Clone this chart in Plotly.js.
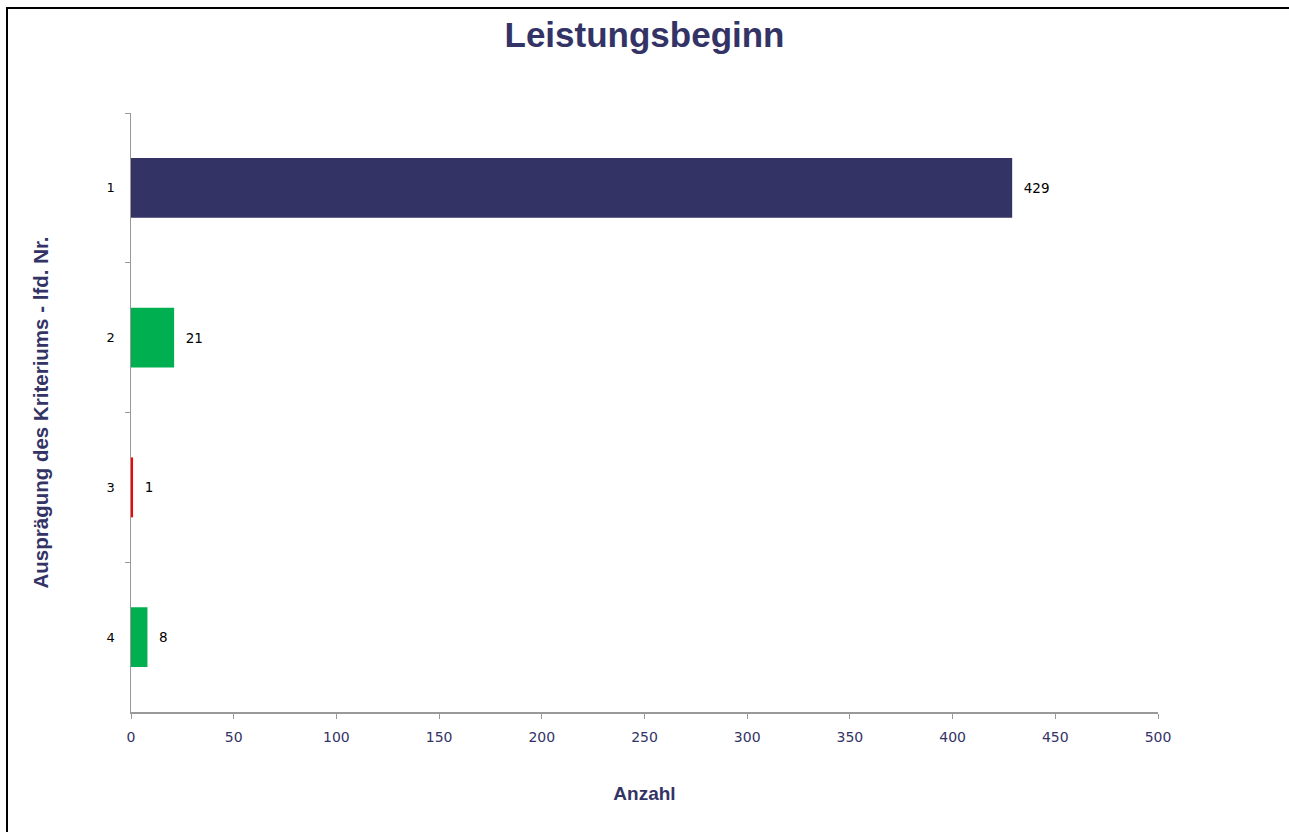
<!DOCTYPE html>
<html>
<head>
<meta charset="utf-8">
<script src="https://cdn.plot.ly/plotly-3.0.1.min.js"></script>
<style>
  html, body { margin: 0; padding: 0; background: #fff; overflow: hidden; }
  #wrap { position: relative; width: 1289px; height: 832px; overflow: hidden; }
  #chart { position: absolute; left: 0; top: 0; width: 1289px; height: 832px; }
  #frame { position: absolute; left: 6px; top: 7px; width: 1283px; height: 825px;
           border-top: 2px solid #000; border-left: 2px solid #000; pointer-events: none;
           box-sizing: border-box; }
</style>
</head>
<body>
<div id="wrap">
  <div id="chart"></div>
  <div id="frame"></div>
</div>
<script>
const categories = ['1', '2', '3', '4'];
const values = [429, 21, 1, 8];
const barColors = ['#333366', '#00B050', '#FF0000', '#00B050'];
const xTickValues = [0, 50, 100, 150, 200, 250, 300, 350, 400, 450, 500];

const navy = '#333366';

const trace = {
  type: 'bar',
  orientation: 'h',
  y: categories,
  x: values,
  marker: { color: barColors, line: { width: 0 } },
  text: values.map(v => '\u00a0\u00a0' + v),
  textposition: 'outside',
  cliponaxis: false,
  textfont: { family: 'DejaVu Sans, Verdana, sans-serif', size: 13.5, color: '#000' },
  hoverinfo: 'none'
};

const layout = {
  width: 1289,
  height: 832,
  margin: { l: 131, r: 131, t: 113, b: 120 },
  paper_bgcolor: '#ffffff',
  plot_bgcolor: '#ffffff',
  showlegend: false,
  bargap: 0.6,
  title: {
    text: '<b>Leistungsbeginn</b>',
    font: { family: 'Liberation Sans, Arial, sans-serif', size: 35, color: navy },
    x: 0.5, xanchor: 'center',
    y: 1 - 35 / 832, yanchor: 'middle', yref: 'container'
  },
  xaxis: {
    range: [0, 500],
    tickvals: xTickValues,
    ticktext: xTickValues.map(String),
    showgrid: false,
    zeroline: false,
    showline: true,
    linecolor: '#999999',
    linewidth: 1.5,
    ticks: 'outside',
    ticklen: 5,
    tickcolor: '#999999',
    tickwidth: 1,
    ticklabelstandoff: 7,
    tickfont: { family: 'DejaVu Sans, Verdana, sans-serif', size: 14, color: navy },
    title: {
      text: '<b>Anzahl</b>',
      font: { family: 'Liberation Sans, Arial, sans-serif', size: 19, color: navy },
      standoff: 42
    },
    fixedrange: true
  },
  yaxis: {
    type: 'category',
    categoryorder: 'array',
    categoryarray: categories,
    autorange: 'reversed',
    showgrid: false,
    zeroline: false,
    showline: true,
    linecolor: '#999999',
    linewidth: 1.5,
    ticks: 'outside',
    tickson: 'boundaries',
    ticklen: 5,
    tickcolor: '#999999',
    tickwidth: 1,
    ticklabelstandoff: 12,
    tickfont: { family: 'DejaVu Sans, Verdana, sans-serif', size: 13, color: '#000' },
    title: {
      text: '<b>Ausprägung des Kriteriums - lfd. Nr.</b>',
      font: { family: 'Liberation Sans, Arial, sans-serif', size: 20.5, color: navy },
      standoff: 52
    },
    fixedrange: true
  }
};

Plotly.newPlot('chart', [trace], layout, { staticPlot: true, displayModeBar: false });
</script>
</body>
</html>
